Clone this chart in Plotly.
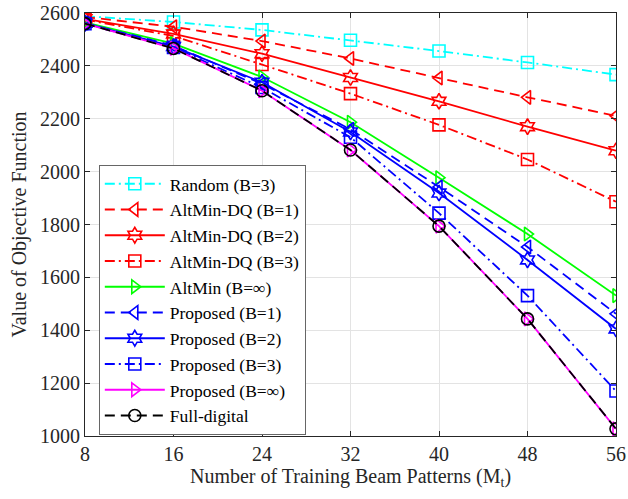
import plotly.graph_objects as go

x_vals = [8, 16, 24, 32, 40, 48, 56]
random_b3 = [2588, 2566, 2536, 2497, 2456, 2413, 2367]
altmindq_b1 = [2585, 2548, 2494, 2428, 2354, 2281, 2211]
altmindq_b2 = [2578, 2521, 2446, 2356, 2266, 2170, 2079]
altmindq_b3 = [2575, 2513, 2405, 2295, 2177, 2046, 1886]
altmin_inf = [2565, 2484, 2358, 2187, 1977, 1764, 1531]
prop_b1 = [2562, 2476, 2332, 2160, 1942, 1715, 1462]
prop_b2 = [2561, 2473, 2338, 2150, 1919, 1666, 1405]
prop_b3 = [2560, 2470, 2318, 2130, 1843, 1531, 1170]
prop_inf = [2560, 2466, 2306, 2082, 1794, 1443, 1027]
full_digital = [2560, 2466, 2306, 2082, 1794, 1443, 1027]

x_ticks = [8, 16, 24, 32, 40, 48, 56]
y_ticks = [1000, 1200, 1400, 1600, 1800, 2000, 2200, 2400, 2600]

DASH = "10px,6px"
DASHDOT = "10px,4px,2px,4px"

series = [
    ("Random (B=3)", random_b3, "#00FFFF", DASHDOT, "square-open"),
    ("AltMin-DQ (B=1)", altmindq_b1, "#FF0000", DASH, "triangle-left-open"),
    ("AltMin-DQ (B=2)", altmindq_b2, "#FF0000", "solid", "hexagram-open"),
    ("AltMin-DQ (B=3)", altmindq_b3, "#FF0000", DASHDOT, "square-open"),
    ("AltMin (B=∞)", altmin_inf, "#00FF00", "solid", "triangle-right-open"),
    ("Proposed (B=1)", prop_b1, "#0000FF", DASH, "triangle-left-open"),
    ("Proposed (B=2)", prop_b2, "#0000FF", "solid", "hexagram-open"),
    ("Proposed (B=3)", prop_b3, "#0000FF", DASHDOT, "square-open"),
    ("Proposed (B=∞)", prop_inf, "#FF00FF", "solid", "triangle-right-open"),
    ("Full-digital", full_digital, "#000000", DASH, "circle-open"),
]

fig = go.Figure()
for name, vals, color, dash, sym in series:
    fig.add_trace(go.Scatter(
        x=x_vals, y=vals, name=name, mode="lines+markers",
        line=dict(color=color, width=1.8, dash=dash),
        marker=dict(symbol=sym, size=12, color=color, line=dict(color=color, width=1.6)),
    ))

font_family = "Liberation Serif"
axis_common = dict(
    showline=True, linecolor="#262626", linewidth=1, mirror="ticks",
    ticks="inside", ticklen=5, tickcolor="#262626",
    showgrid=True, gridcolor="#E3E3E3", gridwidth=1, zeroline=False,
    automargin=False,
    tickfont=dict(family=font_family, size=20, color="#262626"),
)

fig.update_layout(
    template="none",
    width=628, height=499,
    margin=dict(l=85, r=12, t=13, b=63),
    paper_bgcolor="white", plot_bgcolor="white",
    font=dict(family=font_family, size=20, color="#262626"),
    xaxis=dict(range=[8, 56], tickvals=x_ticks, ticktext=[str(v) for v in x_ticks],
               title=dict(text="Number of Training Beam Patterns (M<sub>t</sub>)",
                          font=dict(family=font_family, size=20, color="#262626"),
                          standoff=2),
               **axis_common),
    yaxis=dict(range=[1000, 2600], tickvals=y_ticks, ticktext=[str(v) for v in y_ticks],
               title=dict(text="Value of Objective Function",
                          font=dict(family=font_family, size=20, color="#262626"),
                          standoff=8),
               **axis_common),
    legend=dict(x=0.026, y=0.641, xanchor="left", yanchor="top",
                bgcolor="white", bordercolor="#666666", borderwidth=1,
                font=dict(family=font_family, size=17.5, color="#000000"),
                itemwidth=60, tracegroupgap=0),
    showlegend=True,
)

fig.write_html("out.html", config={"displayModeBar": False},
               post_script="document.body.style.margin='0';")
